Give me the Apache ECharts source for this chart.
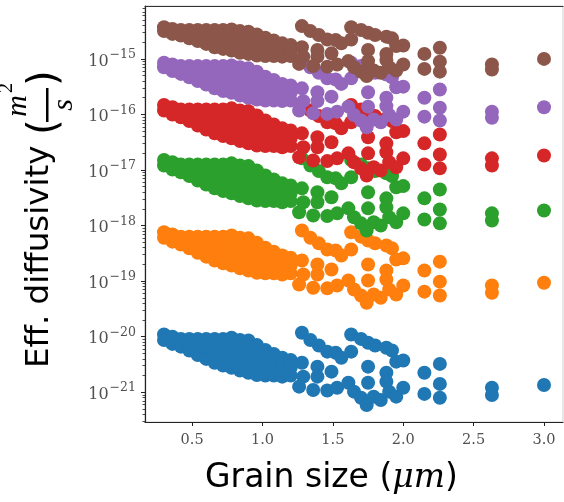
<!DOCTYPE html>
<html><head><meta charset="utf-8">
<script src="https://cdn.jsdelivr.net/npm/echarts@6/dist/echarts.min.js"></script>
<style>html,body{margin:0;padding:0;background:#fff}#c{width:564px;height:502px}</style>
</head><body><div id="c"></div>
<script>
// Grain size (um) shared by all series
const grainSize = [0.30,0.30,0.36,0.36,0.42,0.42,0.48,0.48,0.48,0.54,0.54,0.54,0.60,0.60,0.60,0.66,0.66,0.66,0.66,0.72,0.72,0.72,0.72,0.78,0.78,0.78,0.78,0.84,0.84,0.84,0.84,0.90,0.90,0.90,0.90,0.96,0.96,0.96,0.96,1.02,1.02,1.02,1.02,1.08,1.08,1.08,1.14,1.14,1.14,1.20,1.20,1.20,
1.28,1.34,1.40,1.46,1.52,1.56,1.63,
1.63,1.70,1.75,1.80,1.88,1.92,
1.95,2.00,
1.28,1.39,1.49,1.29,1.75,1.88,1.88,1.75,1.39,
1.26,1.36,1.46,1.53,1.61,1.65,1.70,1.74,1.79,1.84,1.90,1.95,2.00,
2.15,2.15,2.26,2.26,2.26,2.63,2.63,3.00];

// log10 of effective diffusivity (m^2/s) for each series
const log10DBlue = [-19.96,-20.06,-20.00,-20.13,-20.04,-20.18,-20.04,-20.15,-20.25,-20.04,-20.18,-20.33,-20.04,-20.22,-20.40,-20.04,-20.18,-20.33,-20.47,-20.04,-20.20,-20.36,-20.52,-20.02,-20.20,-20.38,-20.56,-20.06,-20.24,-20.43,-20.61,-20.07,-20.25,-20.45,-20.65,-20.15,-20.33,-20.51,-20.69,-20.24,-20.40,-20.56,-20.70,-20.31,-20.51,-20.70,-20.38,-20.56,-20.72,-20.42,-20.56,-20.70,
-19.93,-20.06,-20.16,-20.27,-20.29,-20.38,-20.27,
-19.96,-20.04,-20.11,-20.16,-20.20,-20.25,
-20.45,-20.43,
-20.47,-20.54,-20.63,-20.72,-20.54,-20.65,-20.81,-20.83,-20.72,
-20.90,-20.96,-20.97,-20.92,-20.83,-20.99,-21.10,-21.23,-21.08,-21.14,-20.99,-21.08,-20.92,
-20.65,-21.03,-20.49,-20.85,-21.10,-20.92,-21.05,-20.87];

const log10DOrange = [-18.12,-18.22,-18.16,-18.29,-18.20,-18.34,-18.20,-18.31,-18.41,-18.20,-18.34,-18.49,-18.20,-18.38,-18.56,-18.20,-18.34,-18.49,-18.63,-18.20,-18.36,-18.52,-18.68,-18.18,-18.36,-18.54,-18.72,-18.22,-18.40,-18.59,-18.77,-18.23,-18.41,-18.61,-18.81,-18.31,-18.49,-18.67,-18.85,-18.40,-18.56,-18.72,-18.86,-18.47,-18.67,-18.86,-18.54,-18.72,-18.88,-18.58,-18.72,-18.86,
-18.09,-18.22,-18.32,-18.43,-18.45,-18.54,-18.43,
-18.12,-18.20,-18.27,-18.32,-18.36,-18.41,
-18.61,-18.59,
-18.63,-18.70,-18.79,-18.88,-18.70,-18.81,-18.97,-18.99,-18.88,
-19.06,-19.12,-19.13,-19.08,-18.99,-19.15,-19.26,-19.39,-19.24,-19.30,-19.15,-19.24,-19.08,
-18.81,-19.19,-18.65,-19.01,-19.26,-19.08,-19.21,-19.03];

const log10DGreen = [-16.82,-16.92,-16.86,-16.99,-16.90,-17.04,-16.90,-17.01,-17.11,-16.90,-17.04,-17.19,-16.90,-17.08,-17.26,-16.90,-17.04,-17.19,-17.33,-16.90,-17.06,-17.22,-17.38,-16.88,-17.06,-17.24,-17.42,-16.92,-17.10,-17.29,-17.47,-16.93,-17.11,-17.31,-17.51,-17.01,-17.19,-17.37,-17.55,-17.10,-17.26,-17.42,-17.56,-17.17,-17.37,-17.56,-17.24,-17.42,-17.58,-17.28,-17.42,-17.56,
-16.79,-16.92,-17.02,-17.13,-17.15,-17.24,-17.13,
-16.82,-16.90,-16.97,-17.02,-17.06,-17.11,
-17.31,-17.29,
-17.33,-17.40,-17.49,-17.58,-17.40,-17.51,-17.67,-17.69,-17.58,
-17.76,-17.82,-17.83,-17.78,-17.69,-17.85,-17.96,-18.09,-17.94,-18.00,-17.85,-17.94,-17.78,
-17.51,-17.89,-17.35,-17.71,-17.96,-17.78,-17.91,-17.73];

const log10DRed = [-15.83,-15.93,-15.87,-16.00,-15.91,-16.05,-15.91,-16.02,-16.12,-15.91,-16.05,-16.20,-15.91,-16.09,-16.27,-15.91,-16.05,-16.20,-16.34,-15.91,-16.07,-16.23,-16.39,-15.89,-16.07,-16.25,-16.43,-15.93,-16.11,-16.30,-16.48,-15.94,-16.12,-16.32,-16.52,-16.02,-16.20,-16.38,-16.56,-16.11,-16.27,-16.43,-16.57,-16.18,-16.38,-16.57,-16.25,-16.43,-16.59,-16.29,-16.43,-16.57,
-15.80,-15.93,-16.03,-16.14,-16.16,-16.25,-16.14,
-15.83,-15.91,-15.98,-16.03,-16.07,-16.12,
-16.32,-16.30,
-16.34,-16.41,-16.50,-16.59,-16.41,-16.52,-16.68,-16.70,-16.59,
-16.77,-16.83,-16.84,-16.79,-16.70,-16.86,-16.97,-17.10,-16.95,-17.01,-16.86,-16.95,-16.79,
-16.52,-16.90,-16.36,-16.72,-16.97,-16.79,-16.92,-16.74];

const log10DPurple = [-15.07,-15.15,-15.10,-15.22,-15.13,-15.27,-15.13,-15.23,-15.33,-15.13,-15.27,-15.40,-15.13,-15.30,-15.46,-15.13,-15.27,-15.40,-15.53,-15.13,-15.28,-15.43,-15.58,-15.12,-15.28,-15.45,-15.61,-15.15,-15.32,-15.50,-15.66,-15.17,-15.33,-15.51,-15.70,-15.23,-15.40,-15.56,-15.73,-15.32,-15.46,-15.61,-15.75,-15.38,-15.56,-15.75,-15.45,-15.61,-15.76,-15.48,-15.61,-15.75,
-15.03,-15.15,-15.25,-15.35,-15.37,-15.45,-15.35,
-15.07,-15.13,-15.20,-15.25,-15.28,-15.33,
-15.51,-15.50,
-15.53,-15.60,-15.68,-15.76,-15.60,-15.70,-15.85,-15.86,-15.76,
-15.93,-15.98,-15.99,-15.95,-15.86,-16.01,-16.11,-16.23,-16.09,-16.14,-16.01,-16.09,-15.95,
-15.70,-16.04,-15.55,-15.88,-16.11,-15.95,-16.06,-15.87];

const log10DBrown = [-14.43,-14.50,-14.46,-14.55,-14.48,-14.58,-14.48,-14.56,-14.63,-14.48,-14.58,-14.68,-14.48,-14.61,-14.73,-14.48,-14.58,-14.68,-14.79,-14.48,-14.60,-14.71,-14.82,-14.47,-14.60,-14.72,-14.85,-14.50,-14.62,-14.76,-14.89,-14.51,-14.63,-14.77,-14.91,-14.56,-14.68,-14.81,-14.94,-14.62,-14.73,-14.85,-14.95,-14.67,-14.81,-14.95,-14.72,-14.85,-14.96,-14.75,-14.85,-14.95,
-14.41,-14.50,-14.57,-14.65,-14.66,-14.72,-14.65,
-14.43,-14.48,-14.53,-14.57,-14.60,-14.63,
-14.77,-14.76,
-14.79,-14.84,-14.90,-14.96,-14.84,-14.91,-15.02,-15.04,-14.96,
-15.09,-15.13,-15.14,-15.10,-15.04,-15.15,-15.23,-15.31,-15.21,-15.25,-15.15,-15.21,-15.10,
-14.91,-15.18,-14.80,-15.05,-15.23,-15.10,-15.19,-15.00];

const seriesNames = ['Series 1','Series 2','Series 3','Series 4','Series 5','Series 6'];
const seriesColors = ['#1f77b4','#ff7f0e','#2ca02c','#d62728','#9467bd','#8c564b'];
const xTickValues = [0.5, 1.0, 1.5, 2.0, 2.5, 3.0];
const yTickExponents = [-21, -20, -19, -18, -17, -16, -15];

const allLogs = [log10DBlue, log10DOrange, log10DGreen, log10DRed, log10DPurple, log10DBrown];
const xMin = 0.165, xMax = 3.135;
const yMin = Math.pow(10, -21.536), yMax = Math.pow(10, -14.048);

const yMajor = yTickExponents.map(e => Math.pow(10, e));
const yMinor = [];
for (let e = -22; e <= -14; e++) {
  for (let k = 2; k <= 9; k++) {
    const v = k * Math.pow(10, e);
    if (v > yMin && v < yMax) yMinor.push(v);
  }
}

const chart = echarts.init(document.getElementById('c'), null, {renderer: 'canvas'});
const labelColor = '#505050';
const serif = '"DejaVu Serif", "Liberation Serif", serif';

const series = allLogs.map((arr, i) => ({
  name: seriesNames[i],
  type: 'scatter',
  xAxisIndex: 0, yAxisIndex: 0,
  symbol: 'circle',
  symbolSize: 14,
  itemStyle: {color: seriesColors[i], opacity: 1},
  emphasis: {disabled: true},
  data: grainSize.map((x, j) => [x, Math.pow(10, arr[j])])
}));

chart.setOption({
  animation: false,
  backgroundColor: '#fff',
  grid: {left: 145, right: 1, top: 6, bottom: 80, show: true, borderColor: '#cfcfcf', borderWidth: 1, containLabel: false, outerBoundsMode: 'none'},
  xAxis: [{
    type: 'value', min: xMin, max: xMax, position: 'bottom',
    axisLine: {show: true, onZero: false, lineStyle: {color: '#222', width: 1.2}},
    axisTick: {show: true, customValues: xTickValues, length: 4, lineStyle: {color: '#222', width: 1}},
    axisLabel: {customValues: xTickValues, formatter: v => Number(v).toFixed(1), fontFamily: serif, fontSize: 14.5, color: labelColor, margin: 11},
    splitLine: {show: false}
  }, {
    type: 'value', min: xMin, max: xMax, position: 'top',
    axisLine: {show: true, onZero: false, lineStyle: {color: '#333', width: 1.2}},
    axisTick: {show: false}, axisLabel: {show: false}, splitLine: {show: false}
  }],
  yAxis: [{
    type: 'log', logBase: 10, min: yMin, max: yMax, position: 'left',
    axisLine: {show: true, onZero: false, lineStyle: {color: '#222', width: 1.2}},
    axisTick: {show: true, customValues: yMajor, length: 4, lineStyle: {color: '#222', width: 1}},
    axisLabel: {
      customValues: yMajor, margin: 9,
      formatter: v => { const e = v > 0 ? Math.round(Math.log10(v)) : Math.round(v); return '{b|10}{e|\u2212' + Math.abs(e) + '}'; },
      rich: {
        b: {fontFamily: serif, fontSize: 16, color: labelColor, verticalAlign: 'bottom', lineHeight: 21},
        e: {fontFamily: serif, fontSize: 12.5, color: labelColor, verticalAlign: 'top', lineHeight: 12.5, padding: [0, 0, 0, 1]}
      }
    },
    splitLine: {show: false}
  }, {
    type: 'log', logBase: 10, min: yMin, max: yMax, position: 'left',
    axisLine: {show: false},
    axisTick: {show: true, customValues: yMinor, length: 2.5, lineStyle: {color: '#222', width: 0.8}},
    axisLabel: {show: false}, splitLine: {show: false}
  }],
  graphic: [{
    type: 'text', z: 10,
    style: {
      x: 205, y: 478, align: 'left', verticalAlign: 'middle', textAlign: 'left', textVerticalAlign: 'middle',
      text: '{s|Grain size (}{m|\u03bcm}{s|)}',
      rich: {
        s: {fontFamily: '"DejaVu Sans"', fontSize: 33, fill: '#000', color: '#000'},
        m: {fontFamily: serif, fontStyle: 'italic', fontSize: 33, fill: '#000', color: '#000'}
      }
    }
  }, {
    type: 'group', x: 40, y: 368, rotation: Math.PI / 2, z: 10,
    children: [
      {type: 'text', style: {x: 0, y: 0, text: 'Eff. diffusivity', fontFamily: '"DejaVu Sans"', fontSize: 32.5, fill: '#000', align: 'left', verticalAlign: 'middle'}},
      {type: 'text', style: {x: 233, y: 6, text: '(', fontFamily: '"DejaVu Sans"', fontSize: 40, fill: '#000', align: 'left', verticalAlign: 'middle'}},
      {type: 'text', style: {x: 262, y: -22, text: 'm', fontFamily: '"Liberation Serif", serif', fontStyle: 'italic', fontSize: 30, fill: '#000', align: 'center', verticalAlign: 'middle'}},
      {type: 'text', style: {x: 280, y: -33, text: '2', fontFamily: '"Liberation Serif", serif', fontSize: 20, fill: '#000', align: 'center', verticalAlign: 'middle'}},
      {type: 'rect', shape: {x: 246, y: 6, width: 34, height: 2.5}, style: {fill: '#000'}},
      {type: 'text', style: {x: 263, y: 24, text: 's', fontFamily: '"Liberation Serif", serif', fontStyle: 'italic', fontSize: 30, fill: '#000', align: 'center', verticalAlign: 'middle'}},
      {type: 'text', style: {x: 282, y: 6, text: ')', fontFamily: '"DejaVu Sans"', fontSize: 40, fill: '#000', align: 'left', verticalAlign: 'middle'}}
    ]
  }],
  series: series
});
</script></body></html>
